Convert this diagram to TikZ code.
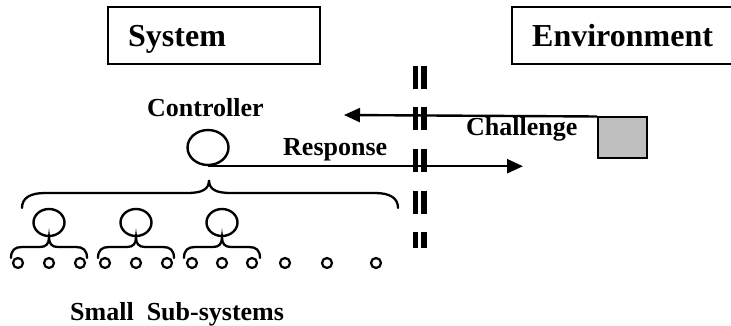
\documentclass[tikz,border=0pt]{standalone}
\usepackage{fontspec}
\setmainfont{Liberation Serif}
\usetikzlibrary{arrows.meta,shapes.geometric}

\tikzset{
  title/.style={font=\fontsize{32}{36}\selectfont\bfseries, inner sep=0pt, anchor=base west},
  lbl/.style={font=\fontsize{26}{30}\selectfont\bfseries, inner sep=0pt, anchor=base west},
  unit/.style={draw, ellipse, line width=2.4pt, minimum width=31pt, minimum height=27pt, inner sep=0pt},
  leaf/.style={draw, circle, line width=2.2pt, minimum size=10pt, inner sep=0pt},
  brc/.style={line width=2.3pt, line cap=round},
  bar/.style={line width=5.7pt, dash pattern=on 23pt off 18.5pt},
  flow/.style={line width=2.4pt, -{Triangle[length=16pt,width=14pt]}},
}

\begin{document}
\begin{tikzpicture}[x=1pt,y=-1pt]
\useasboundingbox (0,0) rectangle (731,326);
\clip (0,0) rectangle (731,326);

% headings
\draw[line width=1.5pt] (108,7) rectangle (320,64);
\node[title] (sys) at (128,47) {System};
\draw[line width=1.5pt] (512,7) rectangle (745,64);
\node[title] (env) at (532,47) {Environment};

% border between the two
\draw[bar] (415.5,66) -- (415.5,248);
\draw[bar] (423.7,66) -- (423.7,248);

% controller and the outside source
\node[lbl] (ctrltxt) at (147,117) {Controller};
\node[unit, minimum width=41pt, minimum height=35pt] (ctrl) at (208,147.5) {};
\node[draw, line width=2pt, fill=gray!50, minimum width=49pt, minimum height=41pt, inner sep=0pt] (src) at (622.5,138) {};

\coordinate (ctip) at (344,115);
\coordinate (rtip) at (523,165);
\draw[flow] (src.north west) -- (ctip);
\node[lbl] (chal) at (466,136) {Challenge};
\draw[flow] (ctrl.south) -- (ctrl.south -| rtip);
\node[lbl] (resp) at (283,156) {Response};

% big brace under the controller
\draw[brc] (22,208) .. controls (22,198) and (30,193) .. (45,193) -- (187,193)
  .. controls (203,193) and (209,189) .. (209,180)
  .. controls (209,189) and (215,193) .. (231,193) -- (375,193)
  .. controls (390,193) and (398,198) .. (398,208);

% sub-systems, each with three small parts
\foreach \i/\cx/\d in {1/49/31,2/136/31,3/222/30} {
  \node[unit] (u\i) at (\cx,222.5) {};
  \node[leaf] (l\i-1) at (\cx-\d,263) {};
  \node[leaf] (l\i-2) at (\cx,263) {};
  \node[leaf] (l\i-3) at (\cx+\d,263) {};
  \draw[brc] (\cx-38,258) .. controls (\cx-38,250) and (\cx-34,247) .. (\cx-27,247) -- (\cx-9,247)
    .. controls (\cx-3,247) and (\cx,244) .. (u\i.south)
    .. controls (\cx,244) and (\cx+3,247) .. (\cx+9,247) -- (\cx+27,247)
    .. controls (\cx+34,247) and (\cx+38,250) .. (\cx+38,258);
}
\foreach \x [count=\j] in {285,327,376}
  \node[leaf] (e\j) at (\x,263) {};

\node[lbl] (small) at (70,320) {Small\ \ Sub-systems};
\end{tikzpicture}
\end{document}
